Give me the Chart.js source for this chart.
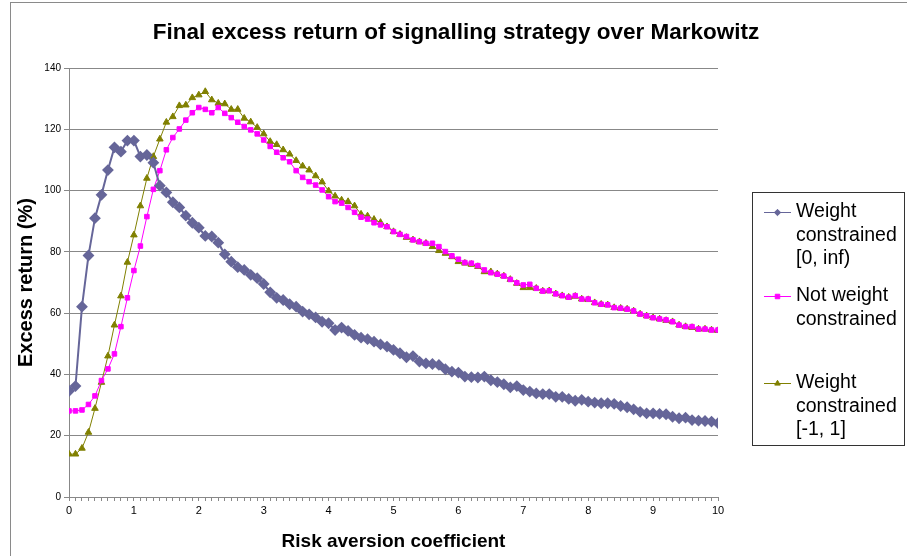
<!DOCTYPE html>
<html>
<head>
<meta charset="utf-8">
<script src="https://cdn.jsdelivr.net/npm/chart.js@4.4.0/dist/chart.umd.min.js"></script>
<style>
  html, body { margin: 0; padding: 0; background: #fff; }
  #wrap { width: 907px; height: 556px; position: relative; }
</style>
</head>
<body>
<div id="wrap"><canvas id="chart" width="907" height="556"></canvas></div>
<script>
const FONT = '"Liberation Sans", Arial, sans-serif';

const chartTitle = 'Final excess return of signalling strategy over Markowitz';

// risk aversion coefficient (x)
const riskAversion = [
  0, 0.1, 0.2, 0.3, 0.4, 0.5, 0.6, 0.7, 0.8, 0.9,
  1, 1.1, 1.2, 1.3, 1.4, 1.5, 1.6, 1.7, 1.8, 1.9,
  2, 2.1, 2.2, 2.3, 2.4, 2.5, 2.6, 2.7, 2.8, 2.9,
  3, 3.1, 3.2, 3.3, 3.4, 3.5, 3.6, 3.7, 3.8, 3.9,
  4, 4.1, 4.2, 4.3, 4.4, 4.5, 4.6, 4.7, 4.8, 4.9,
  5, 5.1, 5.2, 5.3, 5.4, 5.5, 5.6, 5.7, 5.8, 5.9,
  6, 6.1, 6.2, 6.3, 6.4, 6.5, 6.6, 6.7, 6.8, 6.9,
  7, 7.1, 7.2, 7.3, 7.4, 7.5, 7.6, 7.7, 7.8, 7.9,
  8, 8.1, 8.2, 8.3, 8.4, 8.5, 8.6, 8.7, 8.8, 8.9,
  9, 9.1, 9.2, 9.3, 9.4, 9.5, 9.6, 9.7, 9.8, 9.9,
  10
];

// excess return (%) per series
const weightPositive = [
  34.6, 36.2, 62.1, 78.8, 91.0, 98.6, 106.7, 114.1, 112.7, 116.3,
  116.3, 111.1, 111.6, 109.1, 101.6, 99.4, 96.2, 94.5, 91.8, 89.5,
  87.9, 85.2, 85.0, 83.0, 79.2, 76.8, 75.0, 74.1, 72.5, 71.4,
  69.5, 66.8, 65.0, 64.3, 62.9, 62.1, 60.5, 59.6, 58.6, 57.2,
  56.7, 54.5, 55.3, 54.2, 52.9, 52.0, 51.5, 50.7, 49.8, 49.1,
  48.0, 46.9, 45.6, 46.0, 44.2, 43.6, 43.4, 43.1, 41.7, 40.9,
  40.6, 39.3, 39.1, 39.0, 39.3, 38.1, 37.5, 36.8, 35.8, 36.2,
  34.9, 34.4, 33.8, 33.6, 33.6, 32.7, 32.7, 32.0, 31.4, 31.7,
  31.1, 30.8, 30.6, 30.6, 30.4, 29.7, 29.3, 28.6, 27.8, 27.3,
  27.3, 27.1, 27.0, 26.2, 25.7, 25.9, 25.1, 24.9, 24.8, 24.6,
  24.1
];
const notConstrained = [
  28.1, 28.1, 28.4, 30.2, 33.0, 38.0, 41.8, 46.7, 55.6, 65.0,
  73.9, 81.9, 91.5, 100.4, 106.5, 113.3, 117.3, 120.1, 123.0, 125.4,
  127.1, 126.5, 125.4, 127.1, 125.2, 123.8, 122.3, 120.9, 119.8, 118.5,
  116.5, 114.4, 112.5, 110.7, 109.4, 106.5, 104.3, 102.9, 101.8, 100.2,
  98.0, 96.4, 95.9, 94.5, 92.9, 91.3, 90.7, 89.5, 88.8, 88.2,
  86.6, 85.7, 85.0, 83.9, 83.3, 82.8, 82.8, 81.7, 80.1, 78.7,
  77.6, 76.5, 76.3, 75.5, 74.1, 73.2, 72.7, 72.1, 71.0, 69.9,
  69.2, 69.4, 68.1, 67.2, 67.3, 66.3, 65.7, 65.2, 65.7, 64.6,
  64.6, 63.4, 62.9, 62.7, 61.8, 61.6, 61.3, 60.7, 59.7, 59.1,
  58.5, 58.1, 57.8, 57.2, 56.1, 55.6, 55.6, 54.8, 54.8, 54.5,
  54.5
];
const weightBounded = [
  14.0, 14.0, 15.9, 21.1, 28.9, 37.4, 46.0, 56.1, 65.6, 76.6,
  85.5, 95.0, 104.0, 111.1, 116.8, 122.3, 124.1, 127.7, 127.9, 130.3,
  131.2, 132.3, 129.6, 128.5, 128.3, 126.5, 126.5, 123.6, 122.4, 120.6,
  118.5, 116.0, 115.0, 113.3, 111.9, 109.8, 108.0, 106.7, 104.8, 102.8,
  99.9, 98.2, 96.9, 96.4, 95.0, 92.3, 91.7, 90.6, 89.6, 88.2,
  86.6, 85.7, 84.7, 83.9, 83.3, 82.8, 81.7, 80.4, 79.5, 78.4,
  76.8, 76.3, 75.9, 75.2, 73.5, 73.5, 72.8, 72.1, 71.0, 69.7,
  68.3, 68.3, 68.1, 67.2, 67.3, 66.3, 65.7, 65.2, 65.5, 64.6,
  64.4, 63.4, 62.9, 62.7, 61.8, 61.6, 61.3, 60.7, 59.7, 59.1,
  58.5, 58.1, 57.6, 57.2, 56.1, 55.6, 55.3, 54.8, 54.8, 54.5,
  54.3
];

const seriesNames = [
  ['Weight', 'constrained', '[0, inf)'],
  ['Not weight', 'constrained'],
  ['Weight', 'constrained', '[-1, 1]']
];

const toPoints = vals => riskAversion.map((x, i) => ({ x: x, y: vals[i] }));

// title, legend box and outer frame drawn by hand (title spans whole page, legend has multi-line labels)
const sideLegend = {
  id: 'sideLegend',
  afterDraw(chart) {
    const ctx = chart.ctx;
    ctx.save();
    ctx.strokeStyle = '#8a8a8a';
    ctx.lineWidth = 1;
    ctx.strokeRect(10.5, 2.5, 1000, 1000);

    ctx.fillStyle = '#000';
    ctx.font = 'bold 22.5px ' + FONT;
    ctx.textAlign = 'center';
    ctx.textBaseline = 'middle';
    ctx.fillText(chartTitle, 456, 33);

    ctx.strokeStyle = '#333';
    ctx.strokeRect(752.5, 192.5, 152, 253);

    const rowY = [212, 296, 383];
    chart.data.datasets.forEach((ds, i) => {
      const y = rowY[i];
      ctx.strokeStyle = ds.borderColor;
      ctx.lineWidth = 1;
      ctx.beginPath();
      ctx.moveTo(764, y + 0.5);
      ctx.lineTo(791, y + 0.5);
      ctx.stroke();
      ctx.fillStyle = ds.pointBackgroundColor;
      ctx.strokeStyle = ds.pointBorderColor;
      Chart.helpers.drawPoint(ctx, {
        pointStyle: ds.pointStyle, rotation: 0,
        radius: 3.2, borderWidth: 1
      }, 777.5, y + 0.5);

      ctx.fillStyle = '#000';
      ctx.font = '19.5px ' + FONT;
      ctx.textBaseline = 'middle';
      ctx.textAlign = 'left';
      seriesNames[i].forEach((line, k) => {
        ctx.fillText(line, 796, y + k * 23.5);
      });
    });
    ctx.restore();
  }
};

new Chart(document.getElementById('chart').getContext('2d'), {
  type: 'line',
  data: {
    datasets: [
      {
        label: 'Weight constrained [0, inf)',
        data: toPoints(weightPositive),
        borderColor: '#666699',
        backgroundColor: '#666699',
        pointBackgroundColor: '#666699',
        pointBorderColor: '#666699',
        pointStyle: 'rectRot',
        pointRadius: 4.5,
        borderWidth: 2
      },
      {
        label: 'Not weight constrained',
        data: toPoints(notConstrained),
        borderColor: '#ff00ff',
        backgroundColor: '#ff00ff',
        pointBackgroundColor: '#ff00ff',
        pointBorderColor: '#ff00ff',
        pointStyle: 'rect',
        pointRadius: 3.2,
        borderWidth: 1
      },
      {
        label: 'Weight constrained [-1, 1]',
        data: toPoints(weightBounded),
        borderColor: '#808000',
        backgroundColor: '#808000',
        pointBackgroundColor: '#808000',
        pointBorderColor: '#808000',
        pointStyle: 'triangle',
        pointRadius: 3.8,
        borderWidth: 1
      }
    ]
  },
  options: {
    responsive: false,
    animation: false,
    layout: { padding: { left: 10, right: 189, top: 68, bottom: 3 } },
    plugins: {
      legend: { display: false },
      tooltip: { enabled: false },
      title: { display: false }
    },
    scales: {
      x: {
        type: 'linear',
        min: 0,
        max: 10,
        afterFit(scale) { scale.height = 56; },
        ticks: {
          stepSize: 0.1,
          autoSkip: false,
          maxRotation: 0,
          color: '#000',
          font: { family: FONT, size: 11 },
          callback: v => Math.abs(v - Math.round(v)) < 1e-6 ? String(Math.round(v)) : ''
        },
        grid: { drawOnChartArea: false, tickLength: 4, color: '#888' },
        border: { color: '#888' },
        title: {
          display: true,
          text: 'Risk aversion coefficient',
          color: '#000',
          font: { family: FONT, size: 19, weight: 'bold' },
          padding: { top: 2, bottom: 0 }
        }
      },
      y: {
        min: 0,
        max: 140,
        afterFit(scale) { scale.width = 59; },
        ticks: {
          stepSize: 20,
          color: '#000',
          font: { family: FONT, size: 10 }
        },
        grid: { color: '#888', tickLength: 5 },
        border: { color: '#888' },
        title: {
          display: true,
          text: 'Excess return (%)',
          color: '#000',
          font: { family: FONT, size: 20, weight: 'bold' },
          padding: { top: 4, bottom: 0 }
        }
      }
    }
  },
  plugins: [sideLegend]
});
</script>
</body>
</html>
